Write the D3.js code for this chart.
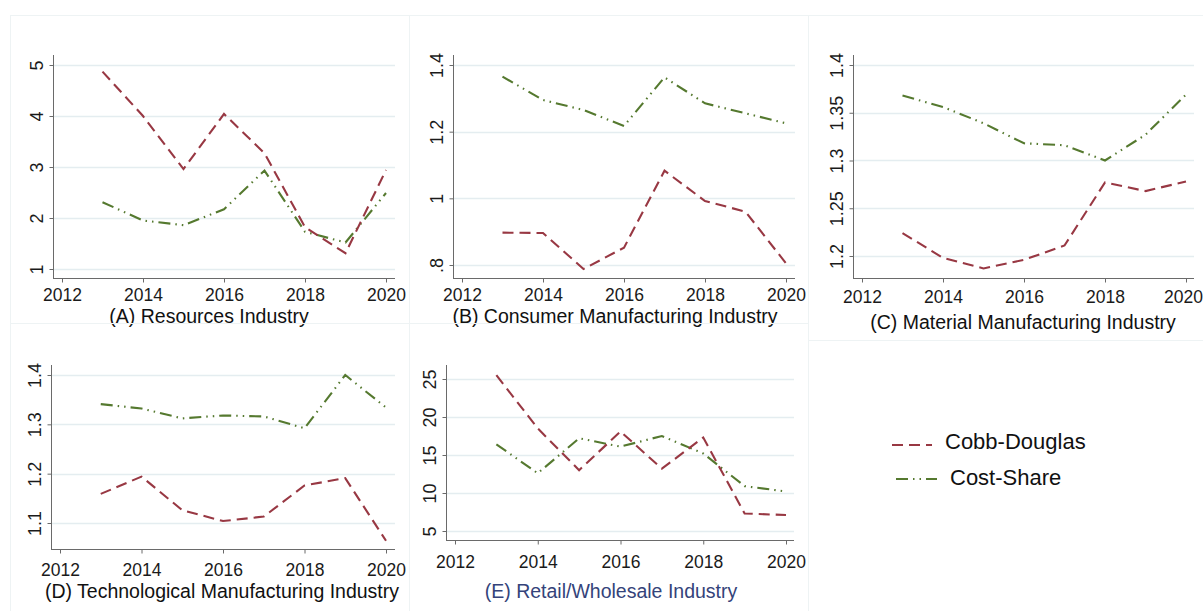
<!DOCTYPE html>
<html>
<head>
<meta charset="utf-8">
<script src="https://cdn.jsdelivr.net/npm/d3@7/dist/d3.min.js"></script>
<style>
  html, body { margin: 0; padding: 0; background: #fff; }
  svg { display: block; font-family: "Liberation Sans", Arial, sans-serif; }
</style>
</head>
<body>
<svg id="chart" width="1203" height="611"></svg>
<script>
// Returns to scale by year, two estimation methods, five industry groups
const years = [2013, 2014, 2015, 2016, 2017, 2018, 2019, 2020];
const xTicks = [2012, 2014, 2016, 2018, 2020];

const cobbA = [4.87, 4.00, 2.96, 4.04, 3.27, 1.82, 1.31, 2.94];
const costA = [2.31, 1.95, 1.86, 2.17, 2.93, 1.73, 1.52, 2.49];
const cobbB = [0.897, 0.896, 0.788, 0.852, 1.083, 0.992, 0.960, 0.805];
const costB = [1.365, 1.295, 1.265, 1.217, 1.363, 1.285, 1.255, 1.225];
const cobbC = [1.224, 1.198, 1.187, 1.196, 1.211, 1.277, 1.268, 1.278];
const costC = [1.368, 1.356, 1.339, 1.318, 1.316, 1.300, 1.327, 1.369];
const cobbD = [1.159, 1.194, 1.126, 1.104, 1.113, 1.176, 1.191, 1.064];
const costD = [1.341, 1.332, 1.312, 1.318, 1.316, 1.292, 1.400, 1.334];
const cobbE = [25.5, 18.5, 13.0, 18.1, 13.2, 17.3, 7.3, 7.1];
const costE = [16.4, 12.6, 17.2, 16.1, 17.5, 15.2, 10.9, 10.2];

const ticksA = [1, 2, 3, 4, 5];
const ticksB = [0.8, 1.0, 1.2, 1.4];
const ticksC = [1.2, 1.25, 1.3, 1.35, 1.4];
const ticksD = [1.1, 1.2, 1.3, 1.4];
const ticksE = [5, 10, 15, 20, 25];

const labelsB = [".8", "1", "1.2", "1.4"];

const titles = [
  "(A) Resources Industry",
  "(B) Consumer Manufacturing Industry",
  "(C) Material Manufacturing Industry",
  "(D) Technological Manufacturing Industry",
  "(E) Retail/Wholesale Industry"
];
const seriesNames = ["Cobb-Douglas", "Cost-Share"];

const RED = "#983843";
const GREEN = "#55792f";
const DASH_RED = "11,6";
const DASH_GREEN = "12,5,1.5,5,1.5,5";

// Layout of each panel: frame, plot box, where tick values land
const panels = [
  { frame: [10, 15, 409, 323], left: 53, right: 395, top: 55, bottom: 278,
    x0: 62, x1: 386, yLo: 269, yHi: 65, cobb: cobbA, cost: costA, ticks: ticksA,
    fmt: d => String(d), title: titles[0], tx: 209, ty: 323, tcol: "#111", xlab: 300, lastDx: 0 },
  { frame: [409, 15, 808, 323], left: 453, right: 795, top: 55, bottom: 278,
    x0: 462, x1: 786, yLo: 265, yHi: 65, cobb: cobbB, cost: costB, ticks: ticksB,
    fmt: (d, i) => labelsB[i], title: titles[1], tx: 615, ty: 323, tcol: "#111", xlab: 300, lastDx: 0 },
  { frame: [808, 15, 1203, 340], left: 853, right: 1194, top: 55, bottom: 278,
    x0: 862, x1: 1186, yLo: 256, yHi: 65, cobb: cobbC, cost: costC, ticks: ticksC,
    fmt: d => String(d), title: titles[2], tx: 1023, ty: 329, tcol: "#111", xlab: 302, lastDx: -3 },
  { frame: [10, 323, 409, 615], left: 51, right: 395, top: 365, bottom: 549,
    x0: 60, x1: 386, yLo: 523, yHi: 375, cobb: cobbD, cost: costD, ticks: ticksD,
    fmt: d => String(d), title: titles[3], tx: 222, ty: 598, tcol: "#111", xlab: 575, lastDx: 0 },
  { frame: [409, 323, 808, 615], left: 446, right: 794, top: 365, bottom: 540,
    x0: 455, x1: 786, yLo: 531, yHi: 379, cobb: cobbE, cost: costE, ticks: ticksE,
    fmt: d => String(d), title: titles[4], tx: 611, ty: 598, tcol: "#34437a", xlab: 567, lastDx: 0 }
];

const svg = d3.select("#chart");

panels.forEach(p => {
  const g = svg.append("g");
  const [fx0, fy0, fx1, fy1] = p.frame;

  // faint panel frame
  g.append("rect")
    .attr("x", fx0 + 0.5).attr("y", fy0 + 0.5)
    .attr("width", fx1 - fx0).attr("height", fy1 - fy0)
    .attr("fill", "none").attr("stroke", "#eef3f4").attr("stroke-width", 1);

  const tMin = d3.min(p.ticks), tMax = d3.max(p.ticks);
  const y = d3.scaleLinear().domain([tMin, tMax]).range([p.yLo, p.yHi]);
  const x = d3.scaleLinear().domain([2012, 2020]).range([p.x0, p.x1]);

  // gridlines
  g.selectAll("line.grid").data(p.ticks).join("line")
    .attr("class", "grid")
    .attr("x1", p.left).attr("x2", p.right)
    .attr("y1", d => Math.round(y(d)) + 0.5).attr("y2", d => Math.round(y(d)) + 0.5)
    .attr("stroke", "#e4edf0").attr("stroke-width", 1.3);

  // y axis
  const yAxis = g.append("g").attr("transform", `translate(${p.left + 0.5},0)`)
    .call(d3.axisLeft(y).tickValues(p.ticks).tickSize(4).tickSizeOuter(0).tickFormat(p.fmt));
  yAxis.select(".domain").remove();
  yAxis.append("line").attr("y1", p.top).attr("y2", p.bottom).attr("stroke", "#6a6a6a");
  yAxis.selectAll(".tick line").attr("stroke", "#6a6a6a");
  yAxis.selectAll(".tick text")
    .attr("x", 0).attr("y", 0).attr("dy", null)
    .attr("transform", "translate(-11,0) rotate(-90)")
    .attr("text-anchor", "middle")
    .attr("font-size", 18).attr("fill", "#1a1a1a")
    .attr("font-family", "Liberation Sans, Arial, sans-serif");

  // x axis
  const xAxis = g.append("g").attr("transform", `translate(0,${p.bottom + 0.5})`)
    .call(d3.axisBottom(x).tickValues(xTicks).tickSize(4).tickSizeOuter(0).tickFormat(d3.format("d")));
  xAxis.select(".domain").remove();
  xAxis.append("line").attr("x1", p.left).attr("x2", p.right).attr("stroke", "#6a6a6a");
  xAxis.selectAll(".tick line").attr("stroke", "#6a6a6a");
  xAxis.selectAll(".tick text")
    .attr("y", p.xlab - p.bottom).attr("dy", null)
    .attr("dx", d => d === 2020 ? p.lastDx : 0)
    .attr("font-size", 17.5).attr("fill", "#1a1a1a")
    .attr("font-family", "Liberation Sans, Arial, sans-serif");

  const line = d3.line().x((d, i) => x(years[i])).y(d => y(d));

  g.append("path").datum(p.cost)
    .attr("d", line).attr("fill", "none")
    .attr("stroke", GREEN).attr("stroke-width", 2.1)
    .attr("stroke-dasharray", DASH_GREEN);

  g.append("path").datum(p.cobb)
    .attr("d", line).attr("fill", "none")
    .attr("stroke", RED).attr("stroke-width", 2.1)
    .attr("stroke-dasharray", DASH_RED);

  g.append("text")
    .attr("x", p.tx).attr("y", p.ty)
    .attr("text-anchor", "middle")
    .attr("font-size", 19.5).attr("fill", p.tcol)
    .text(p.title);
});

// legend
const legend = svg.append("g");
const legendItems = [
  { name: seriesNames[0], color: RED, dash: DASH_RED, x1: 892, x2: 932, y: 445, tx: 945, ty: 449 },
  { name: seriesNames[1], color: GREEN, dash: DASH_GREEN, x1: 896, x2: 937, y: 479, tx: 950, ty: 485 }
];
legendItems.forEach(it => {
  legend.append("line")
    .attr("x1", it.x1).attr("x2", it.x2).attr("y1", it.y).attr("y2", it.y)
    .attr("stroke", it.color).attr("stroke-width", 2.1)
    .attr("stroke-dasharray", it.dash);
  legend.append("text")
    .attr("x", it.tx).attr("y", it.ty)
    .attr("font-size", 22).attr("fill", "#111")
    .text(it.name);
});
</script>
</body>
</html>
